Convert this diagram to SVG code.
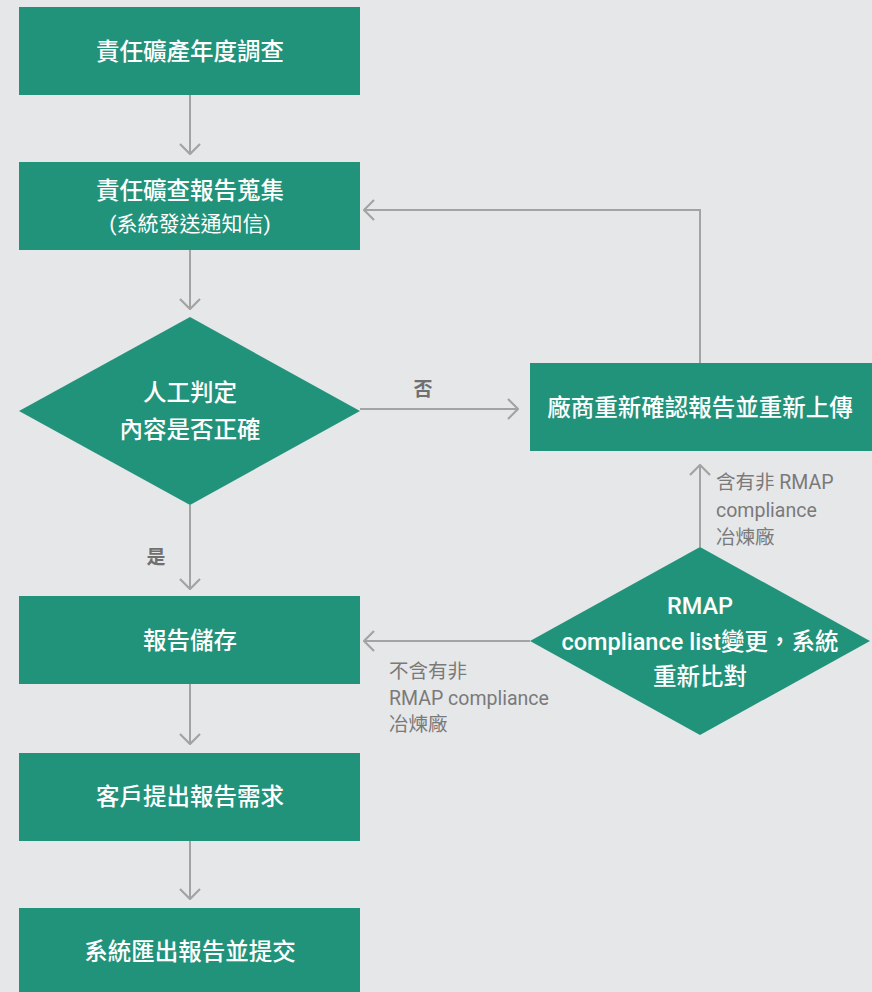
<svg xmlns="http://www.w3.org/2000/svg" width="872" height="992" viewBox="0 0 872 992">
<defs>
<style>
.box{fill:#22937b}
.t{font-family:Roboto,"Noto Sans CJK TC",sans-serif;fill:#ffffff;font-weight:500;font-size:23.5px;text-anchor:middle;dominant-baseline:central}
.sub{font-weight:400;font-size:21px}
.lbl{font-family:Roboto,"Noto Sans CJK TC",sans-serif;fill:#7a7a7a;font-size:19.5px;dominant-baseline:central}
.yn{font-family:"Noto Sans CJK TC","Noto Sans",sans-serif;fill:#707070;font-size:19px;font-weight:700;text-anchor:middle;dominant-baseline:central}
.ln{fill:none;stroke:#a3a3a3;stroke-width:2;marker-end:url(#ah)}
</style>
<marker id="ah" markerUnits="userSpaceOnUse" viewBox="0 0 12 22" markerWidth="12" markerHeight="22" refX="11" refY="11" orient="auto">
<path d="M1,1 L11,11 L1,21" fill="none" stroke="#a3a3a3" stroke-width="2.2"/>
</marker>
</defs>
<rect width="872" height="992" fill="#e6e7e9"/>
<g id="connectors">
<path class="ln" d="M190,95 V154"/>
<path class="ln" d="M190,250 V309"/>
<path class="ln" d="M190,505 V589"/>
<path class="ln" d="M190,684 V744"/>
<path class="ln" d="M190,841 V899"/>
<path class="ln" d="M360,409 H518"/>
<path class="ln" d="M700,547 V465"/>
<path class="ln" d="M530,641 H364"/>
<path class="ln" d="M700,363 V210 H364"/>
<text class="yn" x="423" y="387">否</text>
<text class="yn" x="156" y="555">是</text>
<text class="lbl" x="716" y="482">含有非 RMAP</text>
<text class="lbl" x="716" y="510">compliance</text>
<text class="lbl" x="716" y="537">冶煉廠</text>
<text class="lbl" x="389" y="671">不含有非</text>
<text class="lbl" x="389" y="698">RMAP compliance</text>
<text class="lbl" x="389" y="724">冶煉廠</text>
</g>
<g id="n1"><rect class="box" x="19" y="7" width="341" height="88"/><text class="t" x="190" y="52">責任礦產年度調查</text></g>
<g id="n2"><rect class="box" x="19" y="162" width="341" height="88"/><text class="t" x="190" y="191">責任礦查報告蒐集</text><text class="t sub" x="190" y="224">(系統發送通知信)</text></g>
<g id="d1"><polygon class="box" points="190,317 360,411 190,505 19,411"/><text class="t" x="190" y="393">人工判定</text><text class="t" x="190" y="430">內容是否正確</text></g>
<g id="n3"><rect class="box" x="530" y="363" width="342" height="88"/><text class="t" x="700" y="408">廠商重新確認報告並重新上傳</text></g>
<g id="d2"><polygon class="box" points="700,547 870,641 700,735 530,641"/><text class="t" x="700" y="606">RMAP</text><text class="t" x="700" y="642">compliance list變更，系統</text><text class="t" x="700" y="677">重新比對</text></g>
<g id="n4"><rect class="box" x="19" y="596" width="341" height="88"/><text class="t" x="190" y="641">報告儲存</text></g>
<g id="n5"><rect class="box" x="19" y="753" width="341" height="88"/><text class="t" x="190" y="797">客戶提出報告需求</text></g>
<g id="n6"><rect class="box" x="19" y="908" width="341" height="84"/><text class="t" x="190" y="952">系統匯出報告並提交</text></g>
</svg>
